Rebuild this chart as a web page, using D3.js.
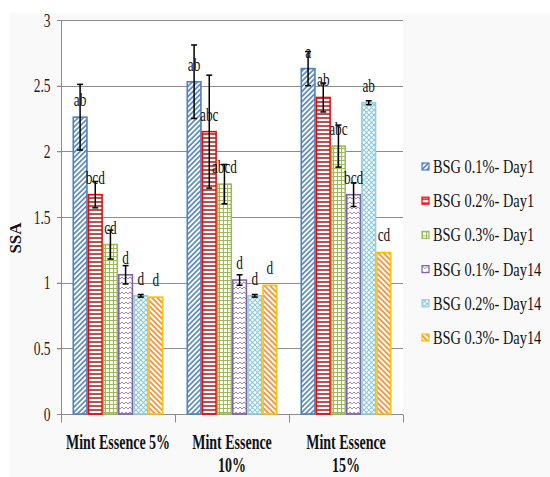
<!DOCTYPE html>
<html><head><meta charset="utf-8">
<script src="https://cdn.jsdelivr.net/npm/d3@7"></script>
<style>body{margin:0;background:#fff}svg{display:block}text{font-family:"Liberation Serif","Times New Roman",serif}</style>
</head><body>
<svg id="chart" width="550" height="477"></svg>
<script>
const categories = ["Mint Essence 5%", "Mint Essence 10%", "Mint Essence 15%"];
const seriesNames = ["BSG 0.1%- Day1", "BSG 0.2%- Day1", "BSG 0.3%- Day1",
                     "BSG 0.1%- Day14", "BSG 0.2%- Day14", "BSG 0.3%- Day14"];
const s1 = [2.26, 2.53, 2.63];
const s2 = [1.67, 2.15, 2.41];
const s3 = [1.29, 1.75, 2.04];
const s4 = [1.06, 1.02, 1.67];
const s5 = [0.90, 0.90, 2.37];
const s6 = [0.89, 0.98, 1.23];
const e1 = [0.25, 0.28, 0.13];
const e2 = [0.10, 0.43, 0.11];
const e3 = [0.11, 0.15, 0.16];
const e4 = [0.07, 0.04, 0.09];
const e5 = [0.01, 0.01, 0.015];
const e6 = [0, 0, 0];
const l1 = ["ab", "ab", "a"];
const l2 = ["bcd", "abc", "ab"];
const l3 = ["cd", "abcd", "abc"];
const l4 = ["d", "d", "bcd"];
const l5 = ["d", "d", "ab"];
const l6 = ["d", "d", "cd"];
const yTicks = [0, 0.5, 1, 1.5, 2, 2.5, 3];

const values = [s1, s2, s3, s4, s5, s6];
const errors = [e1, e2, e3, e4, e5, e6];
const letters = [l1, l2, l3, l4, l5, l6];

const svg = d3.select("#chart");

const y = d3.scaleLinear().domain([0, 3]).range([414, 20]);
const x0 = d3.scaleBand().domain(categories).range([61, 403]).padding(0);
const x1 = d3.scaleBand().domain(d3.range(6)).range([0, x0.bandwidth()]).paddingInner(0).paddingOuter(0.76);

// backgrounds
svg.append("rect").attr("x", 10).attr("y", 13).attr("width", 540).attr("height", 464).attr("fill", "#f9f9f9");
svg.append("rect").attr("x", 61).attr("y", 20).attr("width", 342).attr("height", 394).attr("fill", "#fff");

// patterns
const defs = svg.append("defs");
function stripe(id, color, w, sw, angle) {
  const p = defs.append("pattern").attr("id", id).attr("patternUnits", "userSpaceOnUse")
    .attr("width", w).attr("height", w).attr("patternTransform", `rotate(${angle})`);
  p.append("rect").attr("width", w).attr("height", w).attr("fill", "#fff");
  p.append("line").attr("x1", w / 2).attr("y1", 0).attr("x2", w / 2).attr("y2", w)
    .attr("stroke", color).attr("stroke-width", sw);
}
stripe("p0", "#4F81BD", 3.6, 1.6, 45);
{
  const p = defs.append("pattern").attr("id", "p1").attr("patternUnits", "userSpaceOnUse").attr("width", 4).attr("height", 4);
  p.append("rect").attr("width", 4).attr("height", 4).attr("fill", "#fff");
  p.append("line").attr("x1", 0).attr("x2", 4).attr("y1", 2).attr("y2", 2).attr("stroke", "#C0504D").attr("stroke-width", 2);
}
{
  const p = defs.append("pattern").attr("id", "p2").attr("patternUnits", "userSpaceOnUse").attr("width", 4).attr("height", 4);
  p.append("rect").attr("width", 4).attr("height", 4).attr("fill", "#fff");
  p.append("path").attr("d", "M0,0.5H4M0.5,0V4").attr("stroke", "#9BBB59").attr("stroke-width", 1);
}
{
  const p = defs.append("pattern").attr("id", "p3").attr("patternUnits", "userSpaceOnUse").attr("width", 4).attr("height", 5);
  p.append("rect").attr("width", 4).attr("height", 5).attr("fill", "#fff");
  p.append("path").attr("d", "M0,3L1,2L3,4L4,3").attr("fill", "none").attr("stroke", "#9E8AC0").attr("stroke-width", 1);
}
{
  const p = defs.append("pattern").attr("id", "p4").attr("patternUnits", "userSpaceOnUse").attr("width", 5).attr("height", 5);
  p.append("rect").attr("width", 5).attr("height", 5).attr("fill", "#fff");
  p.append("path").attr("d", "M0,0L5,5M5,0L0,5").attr("stroke", "#8ECADB").attr("stroke-width", 1.2);
}
stripe("p5", "#F79646", 3.8, 1.9, -45);

const borders = ["#4F81BD", "#FF0000", "#9BBB59", "#8064A2", "#93CDDD", "#FFC000"];

// grid lines
svg.append("g").selectAll("line").data(yTicks.filter(d => d > 0)).join("line")
  .attr("x1", 57).attr("x2", 403).attr("y1", d => Math.round(y(d)) + 0.5).attr("y2", d => Math.round(y(d)) + 0.5)
  .attr("stroke", "#8c8c8c").attr("stroke-width", 1);

// y axis
const yAxis = svg.append("g").attr("transform", "translate(61.5,0)")
  .call(d3.axisLeft(y).tickValues(yTicks).tickSize(4).tickFormat(d3.format("")));
yAxis.select(".domain").attr("stroke", "#8c8c8c").attr("d", `M0,${y(3)}V${y(0)}`);
yAxis.selectAll(".tick line").attr("stroke", "#8c8c8c");
yAxis.selectAll(".tick text").remove();
yAxis.selectAll(".tick").each(function (d) {
  d3.select(this).append("g").attr("transform", "translate(-11,6) scale(0.75,1)")
    .append("text").attr("text-anchor", "end").attr("font-size", 18)
    .attr("fill", "#222").text(d3.format("")(d));
});

// x axis
const xAxis = svg.append("g").attr("transform", "translate(0,414.5)");
xAxis.append("line").attr("x1", 57).attr("x2", 403).attr("stroke", "#8c8c8c");
xAxis.selectAll(".bt").data([61, 175, 289, 403]).join("line").attr("class", "bt")
  .attr("x1", d => d + 0.5).attr("x2", d => d + 0.5).attr("y1", 0).attr("y2", 8).attr("stroke", "#8c8c8c");

// bars
const groups = svg.append("g").selectAll("g").data(categories).join("g")
  .attr("transform", d => `translate(${x0(d)},0)`);
groups.each(function (cat, ci) {
  const g = d3.select(this);
  for (let si = 0; si < 6; si++) {
    const v = values[si][ci];
    const bx = x1(si), bw = x1.bandwidth();
    g.append("rect").attr("x", bx + 0.75).attr("y", y(v)).attr("width", bw - 1.5).attr("height", y(0) - y(v))
      .attr("fill", `url(#p${si})`).attr("stroke", borders[si]).attr("stroke-width", 1.6);
  }
  for (let si = 0; si < 6; si++) {
    const v = values[si][ci], e = errors[si][ci];
    const cx = x1(si) + x1.bandwidth() / 2;
    if (e > 0) {
      const eg = g.append("g").attr("stroke", "#000").attr("stroke-width", 1.5);
      eg.append("line").attr("x1", cx).attr("x2", cx).attr("y1", y(v + e)).attr("y2", y(v - e));
      eg.append("line").attr("x1", cx - 3).attr("x2", cx + 3).attr("y1", y(v + e)).attr("y2", y(v + e));
      eg.append("line").attr("x1", cx - 3).attr("x2", cx + 3).attr("y1", y(v - e)).attr("y2", y(v - e));
    }
    g.append("g").attr("transform", `translate(${cx},${y(v) - 11}) scale(0.7,1)`)
      .append("text").attr("text-anchor", "middle").attr("font-size", 19)
      .attr("fill", "#111").text(letters[si][ci]);
  }
});

// x labels
categories.forEach(c => {
  const lines = c.length > 15 ? [c.slice(0, c.lastIndexOf(" ")), c.slice(c.lastIndexOf(" ") + 1)] : [c];
  lines.forEach((t, i) => {
    svg.append("g").attr("transform", `translate(${x0(c) + x0.bandwidth() / 2},${449 + i * 23}) scale(0.7,1)`)
      .append("text").attr("text-anchor", "middle").attr("font-weight", "bold")
      .attr("font-size", 20).attr("fill", "#111").text(t);
  });
});

// y title
svg.append("g").attr("transform", "translate(21,238) rotate(-90)")
  .append("text").attr("text-anchor", "middle").attr("font-weight", "bold")
  .attr("font-size", 17).attr("fill", "#111").text("SSA");

// legend
const leg = svg.append("g").selectAll("g").data(seriesNames).join("g")
  .attr("transform", (d, i) => `translate(422,${167 + i * 34.2})`);
leg.append("rect").attr("x", 0).attr("y", -4).attr("width", 7).attr("height", 7)
  .attr("fill", (d, i) => `url(#p${i})`).attr("stroke", (d, i) => borders[i]).attr("stroke-width", 1.2);
leg.append("g").attr("transform", "translate(11,6) scale(0.8,1)")
  .append("text").attr("font-size", 18).attr("fill", "#111").text(d => d);
</script>
</body></html>
